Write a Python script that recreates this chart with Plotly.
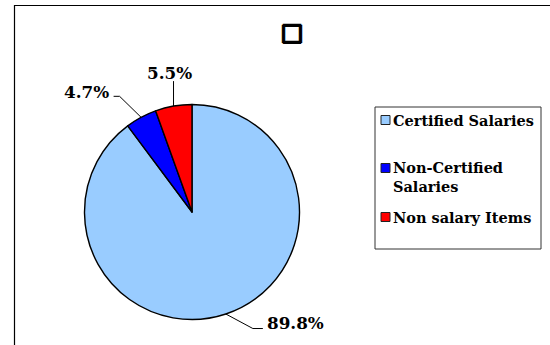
import math
import plotly.graph_objects as go

# Budget share by category
categories = ["Certified Salaries", "Non-Certified Salaries", "Non salary Items"]
legend_text = ["Certified Salaries", "Non-Certified<br>Salaries", "Non salary Items"]
shares = [89.8, 4.7, 5.5]
colors = ["#99CCFF", "#0000FF", "#FF0000"]
title_text = "□"

W, H = 550, 345
CX, CY, R = 192.0, 212.0, 107.5   # pie centre / radius in pixels


def px(x):
    return x / W


def py(y):
    return 1 - y / H


fig = go.Figure()
fig.add_trace(go.Pie(
    labels=categories,
    values=shares,
    sort=False,
    direction="clockwise",
    rotation=0,
    textinfo="none",
    showlegend=False,
    marker=dict(colors=colors, line=dict(color="#000000", width=1.4)),
    domain=dict(x=[px(CX - R), px(CX + R)], y=[py(CY + R), py(CY - R)]),
))

shapes = []
annotations = []

# outer chart frame (open to the right and bottom)
shapes.append(dict(type="rect", xref="paper", yref="paper",
                   x0=px(14.5), x1=px(W + 10), y0=py(H + 10), y1=py(5.5),
                   line=dict(color="#000000", width=1.2), layer="below"))

# percentage labels with leader lines, anchored on each slice's mid-angle
# leader style per slice: (elbow dx, elbow dy, tail dx, label dx, label dy, xanchor)
leader_style = [
    (27, 14.5, 10, 2, -6, "left"),
    (-21.5, -21, -6, -3, -4.5, "right"),
    (0, -25, 0, -4, -8.5, "center"),
]
total = sum(shares)
start = 0.0
for v, st in zip(shares, leader_style):
    mid = (start + v / 2) / total * 2 * math.pi
    start += v
    ax = CX + R * math.sin(mid)
    ay = CY - R * math.cos(mid)
    ex, ey = ax + st[0], ay + st[1]
    tx = ex + st[2]
    path = f"M {px(ax)},{py(ay)} L {px(ex)},{py(ey)} L {px(tx)},{py(ey)}"
    shapes.append(dict(type="path", xref="paper", yref="paper", path=path,
                       line=dict(color="#000000", width=1)))
    annotations.append(dict(
        xref="paper", yref="paper", x=px(tx + st[3]), y=py(ey + st[4]),
        xanchor=st[5], yanchor="middle", showarrow=False,
        text=f"<b>{v:.1f}%</b>",
        font=dict(family="DejaVu Serif", size=16.8, color="#000000"),
    ))

# legend box
LX0, LX1, LY0, LY1 = 375, 541, 107, 249
shapes.append(dict(type="rect", xref="paper", yref="paper",
                   x0=px(LX0), x1=px(LX1), y0=py(LY1), y1=py(LY0),
                   line=dict(color="#333333", width=1), fillcolor="#FFFFFF"))
entry_y = [120, 177.5, 217]      # vertical centre of each entry's text
first_line_y = [120, 168, 217]   # centre of the first text line (symbol row)
for lbl, col, ty, sy in zip(legend_text, colors, entry_y, first_line_y):
    shapes.append(dict(type="rect", xref="paper", yref="paper",
                       x0=px(381), x1=px(390), y0=py(sy + 4.5), y1=py(sy - 4.5),
                       line=dict(color="#222222", width=1), fillcolor=col))
    annotations.append(dict(
        xref="paper", yref="paper", x=px(391), y=py(ty),
        xanchor="left", yanchor="middle", align="left", showarrow=False,
        text=f"<b>{lbl}</b>",
        font=dict(family="DejaVu Serif", size=14.5, color="#000000"),
    ))

fig.update_layout(
    width=W, height=H,
    margin=dict(l=0, r=0, t=0, b=0),
    paper_bgcolor="#FFFFFF",
    plot_bgcolor="#FFFFFF",
    showlegend=False,
    title=dict(text=title_text, x=px(292), y=py(32), xanchor="center", yanchor="middle",
               font=dict(family="DejaVu Sans", size=24, color="#000000",
                         shadow="1px 0 0 #000, -1px 0 0 #000, 0 1px 0 #000, 0 -1px 0 #000")),
    shapes=shapes,
    annotations=annotations,
)

fig.write_html("out.html")
